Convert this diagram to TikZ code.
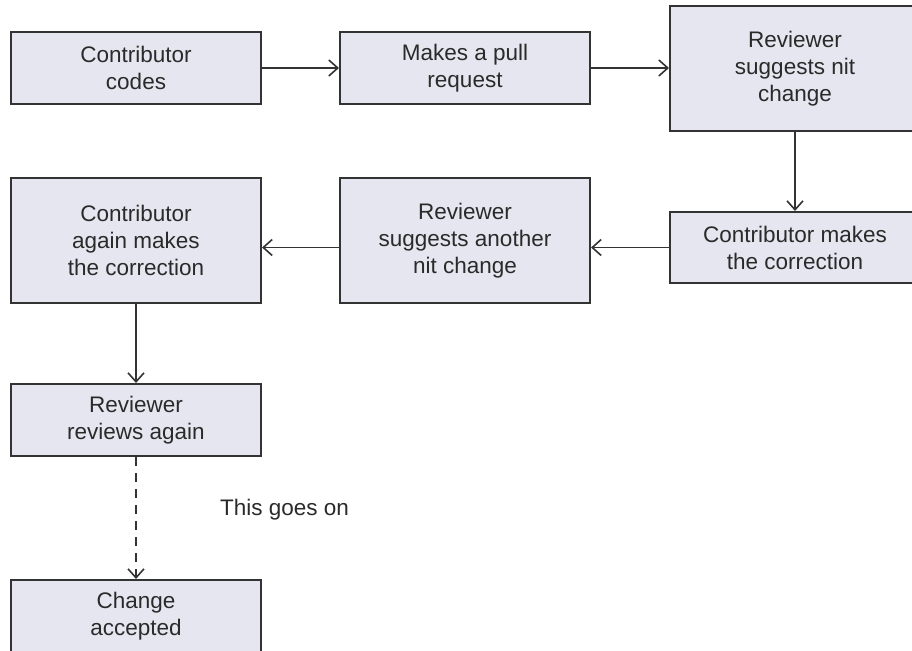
\documentclass[tikz,border=0pt]{standalone}
\usepackage{fontspec}
\setmainfont{Liberation Sans}
\usetikzlibrary{arrows.meta}
\definecolor{boxfill}{HTML}{E6E6F0}
\definecolor{lineclr}{HTML}{333333}
\definecolor{txtclr}{HTML}{2A2A2A}
\tikzset{
  stepbox/.style={draw=lineclr, fill=boxfill, line width=2pt, rectangle,
    minimum width=250pt, minimum height=72pt, inner sep=0pt, align=center,
    text=txtclr, font=\fontsize{22.5pt}{27pt}\selectfont},
  tallbox/.style={stepbox, minimum height=125pt},
  conn/.style={draw=lineclr, line width=1.6pt, -{Straight Barb[length=9pt,width=16pt,line width=1.6pt]}},
  dconn/.style={conn, dash pattern=on 9pt off 7pt}
}
\begin{document}
\begin{tikzpicture}[x=1pt,y=-1pt]
\useasboundingbox (0,0) rectangle (912,650);
\clip (0,0) rectangle (912,650);
\node[stepbox] (b1) at (136,68) {Contributor\\codes};
\node[stepbox] (b2) at (465,68) {Makes a pull\\request};
\node[tallbox] (b3) at (795,68.5) {Reviewer\\suggests nit\\change};
\node[stepbox, minimum height=71pt] (b4) at (795,247.5) {Contributor makes\\the correction};
\node[tallbox] (b5) at (465,240.5) {Reviewer\\suggests another\\nit change};
\node[tallbox] (b6) at (136,240.5) {Contributor\\again makes\\the correction};
\node[stepbox] (b7) at (136,420) {Reviewer\\reviews again};
\node[stepbox] (b8) at (136,616) {Change\\accepted};
\node[anchor=west, inner sep=0pt, text=txtclr, font=\fontsize{22.5pt}{27pt}\selectfont] (lab) at (220,510) {This goes on};
\draw[conn] (b1.east) -- (b2.west);
\draw[conn] (b2.east) -- (b3.west |- b2.east);
\draw[conn] (b3.south) -- (b4.north);
\draw[conn] (b4.west) -- (b4.west -| b5.east);
\draw[conn] (b4.west -| b5.west) -- (b4.west -| b6.east);
\draw[conn] (b6.south) -- (b7.north);
\draw[dconn] (b7.south) -- (b8.north);
\end{tikzpicture}
\end{document}
